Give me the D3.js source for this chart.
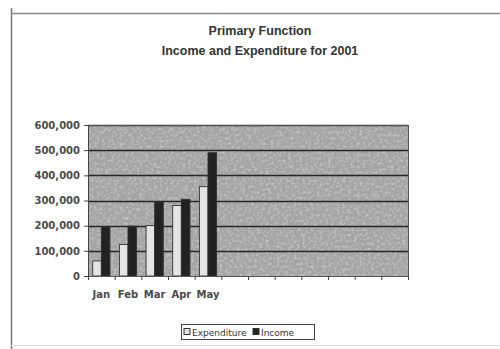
<!DOCTYPE html>
<html>
<head>
<meta charset="utf-8">
<script src="https://cdn.jsdelivr.net/npm/d3@7"></script>
<style>
  body { margin: 0; background: #fff; }
  svg { display: block; font-family: "Liberation Sans", Arial, sans-serif; }
</style>
</head>
<body>
<div id="chart"></div>
<script>
// data
const months = ["Jan", "Feb", "Mar", "Apr", "May", "Jun", "Jul", "Aug", "Sep", "Oct", "Nov", "Dec"];
const monthLabels = ["Jan", "Feb", "Mar", "Apr", "May", "", "", "", "", "", "", ""];
const expenditure = [60000, 125000, 200000, 280000, 355000];
const income = [195000, 198000, 295000, 305000, 490000];
const yTicks = [0, 100000, 200000, 300000, 400000, 500000, 600000];
const seriesNames = ["Expenditure", "Income"];

const width = 500, height = 349;
const margin = {top: 125, right: 92, bottom: 73, left: 88};
const axisFont = "\"DejaVu Sans\", Verdana, sans-serif";

const svg = d3.select("#chart").append("svg")
    .attr("width", width)
    .attr("height", height);

// grainy grey fill for the plot area
const defs = svg.append("defs");
const filt = defs.append("filter").attr("id", "grain")
    .attr("x", 0).attr("y", 0).attr("width", "100%").attr("height", "100%");
filt.append("feTurbulence")
    .attr("type", "fractalNoise")
    .attr("baseFrequency", 0.35)
    .attr("numOctaves", 3)
    .attr("seed", 7)
    .attr("result", "noise");
filt.append("feColorMatrix")
    .attr("type", "matrix")
    .attr("values", "0 0 0 0 1  0 0 0 0 1  0 0 0 0 1  0 0 0 -0.9 0.5");

// outer frame
svg.append("line").attr("x1", 11.5).attr("x2", 11.5).attr("y1", 8).attr("y2", 349)
    .attr("stroke", "#777").attr("stroke-width", 1.5);
svg.append("line").attr("x1", 11).attr("x2", 500).attr("y1", 13.5).attr("y2", 13.5)
    .attr("stroke", "#888").attr("stroke-width", 1.5);
svg.append("line").attr("x1", 11).attr("x2", 500).attr("y1", 345.5).attr("y2", 345.5)
    .attr("stroke", "#ddd").attr("stroke-width", 1);

// titles
svg.append("text").attr("x", 260).attr("y", 35)
    .attr("text-anchor", "middle").attr("font-size", 12.5).attr("font-weight", "bold")
    .attr("fill", "#333").text("Primary Function");
svg.append("text").attr("x", 260).attr("y", 55)
    .attr("text-anchor", "middle").attr("font-size", 12.5).attr("font-weight", "bold")
    .attr("fill", "#333").text("Income and Expenditure for 2001");

const x = d3.scaleBand()
    .domain(months)
    .range([margin.left, width - margin.right]);
const xInner = d3.scaleBand()
    .domain(seriesNames)
    .range([0, x.bandwidth()])
    .paddingOuter(0.55);
const y = d3.scaleLinear()
    .domain([0, 600000])
    .range([height - margin.bottom, margin.top]);

// plot background
const plotW = width - margin.right - margin.left;
const plotH = height - margin.bottom - margin.top;
svg.append("rect")
    .attr("x", margin.left).attr("y", margin.top)
    .attr("width", plotW).attr("height", plotH)
    .attr("fill", "#a4a4a4");
svg.append("rect")
    .attr("x", margin.left).attr("y", margin.top)
    .attr("width", plotW).attr("height", plotH)
    .attr("filter", "url(#grain)");

// gridlines
svg.append("g")
    .selectAll("line")
    .data(yTicks.slice(1))
    .join("line")
    .attr("x1", margin.left).attr("x2", width - margin.right)
    .attr("y1", d => Math.round(y(d)) + 0.5).attr("y2", d => Math.round(y(d)) + 0.5)
    .attr("stroke", "#262626").attr("stroke-width", 1.4);

// bars
const groups = svg.append("g")
    .selectAll("g")
    .data(expenditure.map((e, i) => ({month: months[i], values: [e, income[i]]})))
    .join("g")
    .attr("transform", d => `translate(${x(d.month)},0)`);

groups.selectAll("rect")
    .data(d => d.values.map((v, j) => ({name: seriesNames[j], value: v})))
    .join("rect")
    .attr("x", d => xInner(d.name))
    .attr("y", d => y(d.value))
    .attr("width", xInner.bandwidth())
    .attr("height", d => y(0) - y(d.value))
    .attr("fill", d => d.name === "Income" ? "#222" : "#e4e4e4")
    .attr("stroke", "#333")
    .attr("stroke-width", 0.9);

// plot border
svg.append("rect")
    .attr("x", margin.left + 0.5).attr("y", margin.top + 0.5)
    .attr("width", plotW).attr("height", plotH)
    .attr("fill", "none").attr("stroke", "#555").attr("stroke-width", 1);

// axes
const yAxis = svg.append("g")
    .attr("transform", `translate(${margin.left},0)`)
    .call(d3.axisLeft(y).tickValues(yTicks).tickSize(4).tickPadding(4).tickFormat(d3.format(",")));
const xAxis = svg.append("g")
    .attr("transform", `translate(0,${height - margin.bottom})`)
    .call(d3.axisBottom(x).tickSize(0).tickPadding(15).tickFormat((d, i) => monthLabels[i]));

// tick marks between categories
svg.append("g")
    .selectAll("line")
    .data(months.concat(["end"]))
    .join("line")
    .attr("x1", (d, i) => margin.left + i * x.step() + 0.5)
    .attr("x2", (d, i) => margin.left + i * x.step() + 0.5)
    .attr("y1", height - margin.bottom)
    .attr("y2", height - margin.bottom + 4)
    .attr("stroke", "#444");

[yAxis, xAxis].forEach(g => {
    g.select(".domain").attr("stroke", "#444");
    g.selectAll(".tick line").attr("stroke", "#444");
    g.selectAll("text").attr("font-size", 10).attr("font-weight", "bold")
        .attr("fill", "#4a4a4a").attr("font-family", axisFont);
});
xAxis.select(".domain").remove();

// legend
const legend = svg.append("g").attr("transform", "translate(181,324)");
legend.append("rect").attr("x", 0.5).attr("y", 0.5).attr("width", 133).attr("height", 15)
    .attr("fill", "#fff").attr("stroke", "#444").attr("stroke-width", 1);
const legX = [3, 72];
seriesNames.forEach((name, i) => {
    legend.append("rect").attr("x", legX[i]).attr("y", 4.5).attr("width", 6).attr("height", 6)
        .attr("fill", name === "Income" ? "#222" : "#e4e4e4").attr("stroke", "#333");
    legend.append("text").attr("x", legX[i] + 8).attr("y", 11.5)
        .attr("font-size", 9).attr("fill", "#333").attr("font-family", axisFont)
        .text(name);
});
</script>
</body>
</html>
